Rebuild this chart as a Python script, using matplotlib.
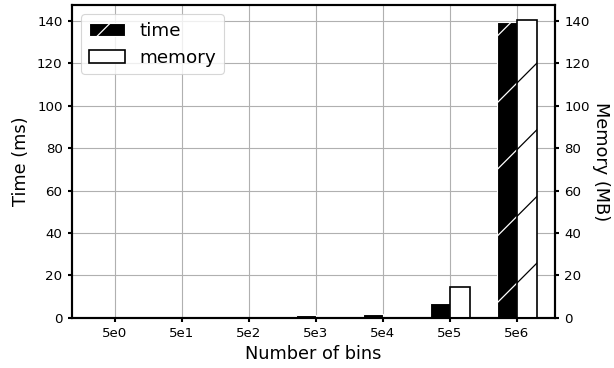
import matplotlib
matplotlib.use("Agg")
import matplotlib.pyplot as plt
import numpy as np
from matplotlib.patches import Patch

# bin counts and measurements per run
bins = ["5e0", "5e1", "5e2", "5e3", "5e4", "5e5", "5e6"]
time_ms = [0.05, 0.3, 0.6, 1.2, 1.9, 7.0, 139.5]
memory_mb = [0.01, 0.02, 0.05, 0.1, 0.2, 14.6, 140.3]

# rendered small at high dpi, so every size is scaled down to match
plt.rcParams["hatch.linewidth"] = 0.45
plt.rcParams["axes.linewidth"] = 0.75
plt.rcParams["xtick.major.width"] = 0.75
plt.rcParams["ytick.major.width"] = 0.75
plt.rcParams["xtick.major.size"] = 1.6
plt.rcParams["ytick.major.size"] = 1.6
plt.rcParams["xtick.major.pad"] = 1.8
plt.rcParams["ytick.major.pad"] = 1.8

fig = plt.figure(figsize=(3.07, 1.84), dpi=200)
ax1 = fig.add_axes([0.1173, 0.1359, 0.7866, 0.8505])
ax2 = ax1.twinx()

x = np.arange(len(bins))
w = 0.3
ax1.bar(x - w / 2, time_ms, w, color="k", edgecolor="w", hatch="/", linewidth=0.4)
ax2.bar(x + w / 2, memory_mb, w, color="w", edgecolor="k", hatch="/", linewidth=0.6)

top = max(max(time_ms), max(memory_mb)) * 1.05
for ax in (ax1, ax2):
    ax.set_ylim(0, top)
    ax.set_yticks(np.arange(0, 141, 20))
    ax.tick_params(labelsize=4.8)
ax1.set_xticks(x)
ax1.set_xticklabels(bins)
ax1.set_xlim(-0.64, 6.57)

ax1.grid(True, color="#b0b0b0", linewidth=0.4)
ax1.set_axisbelow(True)

ax1.set_xlabel("Number of bins", fontsize=6.4, labelpad=1.5)
ax1.set_ylabel("Time (ms)", fontsize=6.4, labelpad=2.5)
ax2.set_ylabel("Memory (MB)", fontsize=6.4, rotation=270, labelpad=7)

handles = [
    Patch(facecolor="k", edgecolor="w", hatch="/", linewidth=0.4, label="time"),
    Patch(facecolor="w", edgecolor="k", hatch="/", linewidth=0.6, label="memory"),
]
leg = ax2.legend(handles=handles, loc="upper left", fontsize=6.6)
leg.get_frame().set_linewidth(0.4)

fig.savefig("out.png", dpi=200)
